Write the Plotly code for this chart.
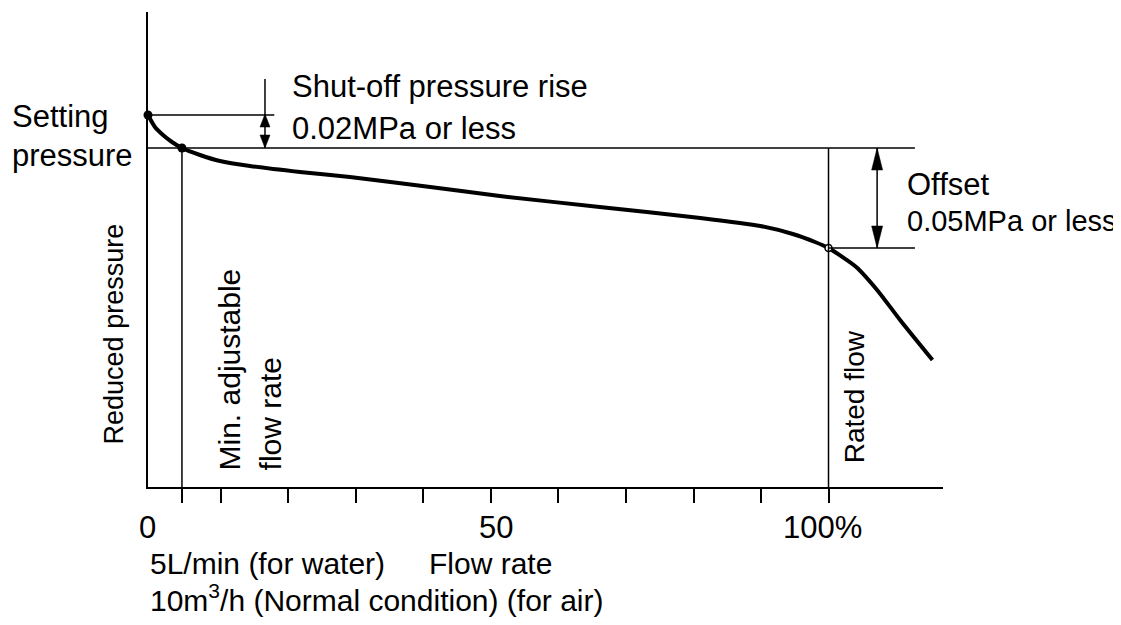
import plotly.graph_objects as go

# ---- data (schematic units: x = % of rated flow, y = relative pressure) ----
flow_pct = [-0.81, 0.22, 1.41, 2.74, 4.22, 6.89, 9.85, 14.3, 21.7, 29.1, 41.0, 51.3,
            66.1, 81.0, 89.9, 94.7, 98.0, 100.0, 104.1, 107.2, 110.6, 115.4]
pressure = [3.72, 3.60, 3.52, 3.45, 3.39, 3.32, 3.26, 3.21, 3.15, 3.10, 3.00, 2.91,
            2.80, 2.69, 2.61, 2.53, 2.45, 2.39, 2.20, 1.97, 1.67, 1.27]

shutoff_p = 3.72      # shut-off pressure (at zero flow)
setting_p = 3.39      # setting pressure
rated_p = 2.39        # pressure at rated flow
min_flow = 4.22       # min. adjustable flow rate
rated_flow = 100.0    # rated flow
tick_vals = [min_flow, 10, 20, 30, 40, 50, 60, 70, 80, 90, rated_flow]
tick_labels = ["0", "50", "100%"]
tick_label_pos = [-0.89, 50.8, 99.1]

X0, X1 = -0.81, 116.96
Y0, Y1 = 0.0, 4.75
FONT = "Liberation Sans, Arial, sans-serif"
FS = 31
K = "black"

# plot-area size in px (for converting px-sized decorations to data units)
PW, PH = 795.0, 475.0
XU = (X1 - X0) / PW
YU = (Y1 - Y0) / PH


def px_(x):
    return (x - X0) / (X1 - X0)


def py_(y):
    return (y - Y0) / (Y1 - Y0)


fig = go.Figure()
fig.add_trace(go.Scatter(x=flow_pct, y=pressure, mode="lines",
                         line=dict(color=K, width=4, shape="spline", smoothing=0.6),
                         hoverinfo="skip", showlegend=False))
fig.add_trace(go.Scatter(x=[flow_pct[0], min_flow], y=[shutoff_p, setting_p], mode="markers",
                         marker=dict(color=K, size=9), showlegend=False, cliponaxis=False))
fig.add_trace(go.Scatter(x=[rated_flow], y=[rated_p], mode="markers",
                         marker=dict(color="white", size=7, line=dict(color=K, width=1.5)),
                         showlegend=False))

lw = 1.5
shut_x = 16.52
off_x = 107.2
shapes = [
    dict(type="line", x0=X0, x1=17.9, y0=shutoff_p, y1=shutoff_p),
    dict(type="line", x0=X0, x1=112.8, y0=setting_p, y1=setting_p),
    dict(type="line", x0=rated_flow, x1=112.8, y0=rated_p, y1=rated_p),
    dict(type="line", x0=min_flow, x1=min_flow, y0=0, y1=setting_p),
    dict(type="line", x0=rated_flow, x1=rated_flow, y0=0, y1=setting_p),
    dict(type="line", x0=shut_x, x1=shut_x, y0=4.08, y1=setting_p),
    dict(type="line", x0=off_x, x1=off_x, y0=setting_p, y1=rated_p),
]
for s in shapes:
    s.update(xref="x", yref="y", line=dict(color=K, width=lw))


def head(x, tip, direction, length_px, width_px):
    """filled arrow head; direction +1 points up, -1 points down"""
    base = tip - direction * length_px * YU
    hw = width_px / 2 * XU
    return dict(type="path", xref="x", yref="y",
                path=f"M {x},{tip} L {x - hw},{base} L {x + hw},{base} Z",
                fillcolor=K, line=dict(color=K, width=0.5))


shapes += [
    head(shut_x, shutoff_p + 0.01, +1, 13, 10),
    head(shut_x, setting_p, -1, 13, 10),
    head(off_x, setting_p, +1, 22, 11),
    head(off_x, rated_p, -1, 22, 11),
]
fig.update_layout(shapes=shapes)

ann = []


def txt(t, x, y, xa="left", ya="middle", angle=0, size=FS):
    ann.append(dict(text=t, x=px_(x), y=py_(y), xref="paper", yref="paper",
                    xanchor=xa, yanchor=ya, textangle=angle, showarrow=False,
                    font=dict(family=FONT, size=size, color=K)))


txt("Setting", -21.26, 3.70)
txt("pressure", -21.26, 3.31)
txt("Reduced pressure", -5.78, 1.53, xa="center", ya="middle", angle=-90, size=27)
txt("Min. adjustable", 11.26, 0.15, xa="center", ya="bottom", angle=-90, size=30)
txt("flow rate", 17.4, 0.15, xa="center", ya="bottom", angle=-90, size=30)
txt("Rated flow", 103.9, 0.22, xa="center", ya="bottom", angle=-90, size=28)
txt("Shut-off pressure rise", 20.22, 4.01)
txt("0.02MPa or less", 20.22, 3.59)
txt("Offset", 111.33, 3.025)
txt("0.05MPa or less", 111.33, 2.66, size=29)
for lab, xp in zip(tick_labels, tick_label_pos):
    txt(lab, xp, -0.40, xa="center")
txt("5L/min (for water)", -0.81, -0.76, size=30)
txt("Flow rate", 40.5, -0.76, size=30)
txt("10m<sup>3</sup>/h (Normal condition) (for air)", -0.81, -1.11, size=30)
fig.update_layout(annotations=ann)

fig.update_xaxes(range=[X0, X1], showline=True, linecolor=K, linewidth=2, mirror=False,
                 showgrid=False, zeroline=False, ticks="outside", tickvals=tick_vals,
                 ticklen=14, tickwidth=1.5, tickcolor=K, showticklabels=False)
fig.update_yaxes(range=[Y0, Y1], showline=True, linecolor=K, linewidth=2,
                 showgrid=False, zeroline=False, ticks="", showticklabels=False)
# the page body adds an 8px margin, so the figure is 8px smaller and shifted
fig.update_layout(width=1113, height=617, margin=dict(l=140, r=178, t=4, b=138),
                  paper_bgcolor="white", plot_bgcolor="white", showlegend=False)

fig.write_html("out.html")
